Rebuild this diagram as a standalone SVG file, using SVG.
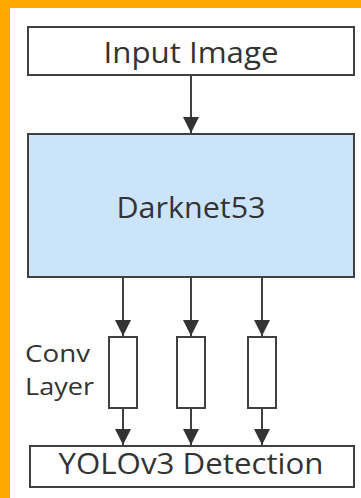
<svg xmlns="http://www.w3.org/2000/svg" width="361" height="498" viewBox="0 0 361 498">
<defs>
<style>
.box{fill:#fff;stroke:#404040;stroke-width:2}
.blue{fill:#cce4fa;stroke:#404040;stroke-width:2}
.t{font-family:"Open Sans","Noto Sans","DejaVu Sans",sans-serif;fill:#333;text-anchor:middle;font-size:30px}
.l{font-family:"Open Sans","Noto Sans","DejaVu Sans",sans-serif;fill:#333;font-size:24px}
.c{stroke:#404040;stroke-width:2;fill:none;marker-end:url(#ah)}
</style>
<marker id="ah" markerUnits="userSpaceOnUse" markerWidth="16" markerHeight="20" refX="16" refY="8" orient="auto">
<path d="M0,0 L16,8 L0,16 Z" fill="#333"/>
</marker>
</defs>
<rect x="0" y="0" width="361" height="498" fill="#fff"/>
<rect x="0" y="0" width="361" height="8" fill="#ffa800"/>
<rect x="0" y="0" width="10" height="498" fill="#ffa800"/>
<g id="input"><rect class="box" x="28" y="27" width="326" height="48"/><text class="t" x="191" y="63" textLength="175" lengthAdjust="spacingAndGlyphs">Input Image</text></g>
<g id="darknet"><rect class="blue" x="28" y="134" width="326" height="143"/><text class="t" x="191" y="218" textLength="149" lengthAdjust="spacingAndGlyphs">Darknet53</text></g>
<g id="conv1"><rect class="box" x="109" y="337" width="28" height="71"/></g>
<g id="conv2"><rect class="box" x="177" y="337" width="28" height="71"/></g>
<g id="conv3"><rect class="box" x="248" y="337" width="28" height="71"/></g>
<g id="convlabel"><text class="l" x="25" y="362" textLength="65" lengthAdjust="spacingAndGlyphs">Conv</text><text class="l" x="25" y="395" textLength="69" lengthAdjust="spacingAndGlyphs">Layer</text></g>
<g id="yolo"><rect class="box" x="30" y="446" width="324" height="41"/><text class="t" x="191" y="474" textLength="265" lengthAdjust="spacingAndGlyphs">YOLOv3 Detection</text></g>
<g id="connectors">
<line class="c" x1="191" y1="75" x2="191" y2="133"/>
<line class="c" x1="123" y1="277" x2="123" y2="336"/>
<line class="c" x1="191" y1="277" x2="191" y2="336"/>
<line class="c" x1="262" y1="277" x2="262" y2="336"/>
<line class="c" x1="123" y1="408" x2="123" y2="445"/>
<line class="c" x1="191" y1="408" x2="191" y2="445"/>
<line class="c" x1="262" y1="408" x2="262" y2="445"/>
</g>
</svg>
